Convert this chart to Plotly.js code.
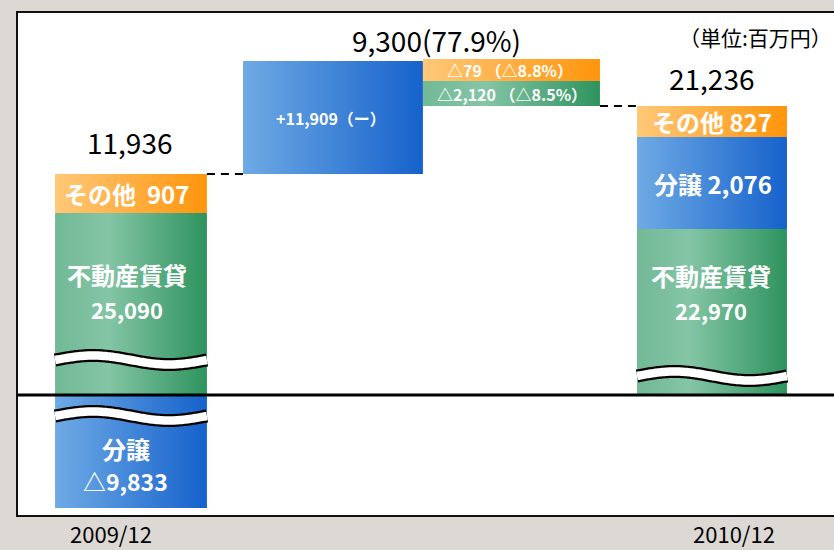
<!DOCTYPE html>
<html>
<head>
<meta charset="utf-8">
<script src="https://cdn.plot.ly/plotly-3.0.1.min.js"></script>
<style>
html,body{margin:0;padding:0;background:#dcd8d4;}
#chart{width:834px;height:550px;}
</style>
</head>
<body>
<div id="chart"></div>
<script>
// ---------------- data (百万円) ----------------
const periods = ["2009/12", "2010/12"];
const segmentNames = ["その他", "不動産賃貸", "分譲"];
const values2009 = [907, 25090, -9833];
const values2010 = [827, 22970, 2076];
const totals = [11936, 21236];
const changeNames = ["分譲", "その他", "不動産賃貸"];
const changeValues = [11909, -79, -2120];
const changePct = [null, -8.8, -8.5];
const totalChange = 9300;
const totalChangePct = 77.9;
const unitLabel = "（単位:百万円）";

// ------------- schematic geometry (broken axis, not to scale) -------------
// drawn heights of each stacked piece on the schematic axis
const drawn = {
  bar1: {other: 39, rent: 182, sale: -113},
  bar2: {sale: 113},
  bar3: {rent: 25, other: 22},
  bar4: {rent: 166, sale: 92, other: 31}
};
// slot index and left/right edges relative to slot centre
const slots = {
  bar1: {i: 0, l: -0.407, r: 0.384},
  bar2: {i: 1, l: -0.428, r: 0.509},
  bar3: {i: 2, l: -0.491, r: 0.431},
  bar4: {i: 3, l: -0.376, r: 0.405}
};

const C = {
  orange: [[0, '#ffc878'], [1, '#ff950c']],
  green: [[0, '#72b996'], [0.35, '#84c5a5'], [1, '#2e935e']],
  blue: [[0, '#6eaae4'], [1, '#1662cc']]
};

function fmt(n) {
  const s = Math.abs(n).toLocaleString('en-US');
  return n < 0 ? '△' + s : s;
}
function X(b, which) {
  const s = slots[b];
  if (which === 'l') return s.i + s.l;
  if (which === 'r') return s.i + s.r;
  return s.i + (s.l + s.r) / 2;
}

const traces = [];
function piece(b, y0, y1, scale) {
  const x0 = X(b, 'l'), x1 = X(b, 'r');
  traces.push({
    type: 'scatter', mode: 'lines',
    x: [x0, x1, x1, x0, x0], y: [y0, y0, y1, y1, y0],
    fill: 'toself', fillcolor: scale[scale.length - 1][1],
    fillgradient: {type: 'horizontal', colorscale: scale},
    line: {width: 0, color: 'rgba(0,0,0,0)'},
    hoverinfo: 'skip', showlegend: false
  });
}

// bar 1 (2009/12)
const b1rentTop = drawn.bar1.rent;
const b1Top = b1rentTop + drawn.bar1.other;
piece('bar1', drawn.bar1.sale, 0, C.blue);
piece('bar1', 0, b1rentTop, C.green);
piece('bar1', b1rentTop, b1Top, C.orange);

// bar 4 (2010/12)
const b4a = drawn.bar4.rent, b4b = b4a + drawn.bar4.sale, b4Top = b4b + drawn.bar4.other;
piece('bar4', 0, b4a, C.green);
piece('bar4', b4a, b4b, C.blue);
piece('bar4', b4b, b4Top, C.orange);

// bar 2 (increase of 分譲), starts from bar1 top
const b2Top = b1Top + drawn.bar2.sale;
piece('bar2', b1Top, b2Top, C.blue);

// bar 3 (decreases), hanging down to bar4 top
const b3a = b4Top + drawn.bar3.rent, b3Top = b3a + drawn.bar3.other;
piece('bar3', b4Top, b3a, C.green);
piece('bar3', b3a, b3Top, C.orange);

// break marks (decorative wave)
function wave(b, yc) {
  const x0 = X(b, 'l'), x1 = X(b, 'r');
  const xs = [], ys = [];
  const n = 60;
  for (let k = 0; k <= n; k++) {
    const t = k / n;
    xs.push(x0 + (x1 - x0) * t);
    ys.push(yc + 4.5 * Math.sin(2 * Math.PI * t));
  }
  traces.push({type: 'scatter', mode: 'lines', x: xs, y: ys, line: {color: '#000', width: 13, shape: 'spline'}, hoverinfo: 'skip', showlegend: false});
  traces.push({type: 'scatter', mode: 'lines', x: xs, y: ys, line: {color: '#fff', width: 8.5, shape: 'spline'}, hoverinfo: 'skip', showlegend: false});
}
wave('bar1', 35);
wave('bar1', -21);
wave('bar4', 19);

// ---------------- annotations ----------------
const FONT = '"Noto Sans CJK JP", "Noto Sans", sans-serif';
const anns = [];
function white(x, y, text, size, xshift) {
  anns.push({x: x, y: y, xref: 'x', yref: 'y', text: text, showarrow: false,
    xshift: xshift || 0,
    font: {family: FONT, size: size, color: '#ffffff', weight: 700}});
}
function black(x, y, text, size, xshift, xanchor) {
  anns.push({x: x, y: y, xref: 'x', yref: 'y', text: text, showarrow: false,
    xshift: xshift || 0, xanchor: xanchor || 'center',
    font: {family: FONT, size: size, color: '#000000'}});
}

// bar1 labels
white(X('bar1'), (b1rentTop + b1Top) / 2, segmentNames[0] + '  ' + fmt(values2009[0]), 24, -4);
white(X('bar1'), b1rentTop * 0.66, segmentNames[1], 24, -4);
white(X('bar1'), b1rentTop * 0.47, fmt(values2009[1]), 22, -4);
white(X('bar1'), drawn.bar1.sale * 0.47, segmentNames[2], 24, -5);
white(X('bar1'), drawn.bar1.sale * 0.76, fmt(values2009[2]), 23, -5);
black(X('bar1'), b1Top + 32, fmt(totals[0]), 28, -1);

// bar2
white(X('bar2'), (b1Top + b2Top) / 2, '+' + fmt(changeValues[0]) + '（ー）', 16, -2);

// bar3
white(X('bar3'), (b3a + b3Top) / 2, fmt(changeValues[1]) + ' （' + fmt(changePct[1]) + '%）', 16, -1);
white(X('bar3'), (b4Top + b3a) / 2, fmt(changeValues[2]) + ' （' + fmt(changePct[2]) + '%）', 16, 1);
black(X('bar3', 'l'), b3Top + 19, fmt(totalChange) + '(' + totalChangePct + '%)', 28, 14);

// bar4
white(X('bar4'), (b4b + b4Top) / 2, segmentNames[0] + ' ' + fmt(values2010[0]), 24, 0);
white(X('bar4'), (b4a + b4b) / 2, segmentNames[2] + ' ' + fmt(values2010[2]), 24, 1);
white(X('bar4'), b4a * 0.72, segmentNames[1], 24, -1);
white(X('bar4'), b4a * 0.51, fmt(values2010[1]), 22, -1);
black(X('bar4'), b4Top + 28, fmt(totals[1]), 28, 0);

// unit label
anns.push({x: 1, y: 1, xref: 'paper', yref: 'paper', text: unitLabel, showarrow: false,
  xanchor: 'right', yanchor: 'middle', xshift: 0, yshift: -24,
  font: {family: FONT, size: 21, color: '#000'}});

// period labels under the frame
anns.push({x: X('bar1'), y: 0, xref: 'x', yref: 'paper', text: periods[0], showarrow: false,
  yanchor: 'middle', yshift: -18, xshift: -20, font: {family: FONT, size: 22, color: '#000'}});
anns.push({x: X('bar4'), y: 0, xref: 'x', yref: 'paper', text: periods[1], showarrow: false,
  yanchor: 'middle', yshift: -18, xshift: 22, font: {family: FONT, size: 22, color: '#000'}});

// ---------------- shapes ----------------
const shapes = [
  // zero baseline
  {type: 'line', xref: 'paper', yref: 'y', x0: 0, x1: 1, y0: 0, y1: 0,
    line: {color: '#000', width: 3}, layer: 'above'},
  // connectors
  {type: 'line', xref: 'x', yref: 'y', x0: X('bar1', 'r'), x1: X('bar2', 'l'), y0: b1Top, y1: b1Top,
    line: {color: '#000', width: 2, dash: '8px,6px'}},
  {type: 'line', xref: 'x', yref: 'y', x0: X('bar3', 'r'), x1: X('bar4', 'l'), y0: b4Top, y1: b4Top,
    line: {color: '#000', width: 2, dash: '8px,6px'}}
];

const layout = {
  width: 834, height: 550,
  margin: {l: 18, r: 0, t: 13, b: 35, pad: 0},
  paper_bgcolor: '#dcd8d4',
  plot_bgcolor: '#ffffff',
  showlegend: false,
  xaxis: {range: [-0.6, 3.65], showgrid: false, zeroline: false, showticklabels: false,
    ticks: '', showline: true, mirror: true, linecolor: '#111', linewidth: 2, fixedrange: true},
  yaxis: {range: [-120, 382], showgrid: false, zeroline: false, showticklabels: false,
    ticks: '', showline: true, mirror: true, linecolor: '#111', linewidth: 2, fixedrange: true},
  annotations: anns,
  shapes: shapes
};

Plotly.newPlot('chart', traces, layout, {displayModeBar: false, staticPlot: true});
</script>
</body>
</html>
